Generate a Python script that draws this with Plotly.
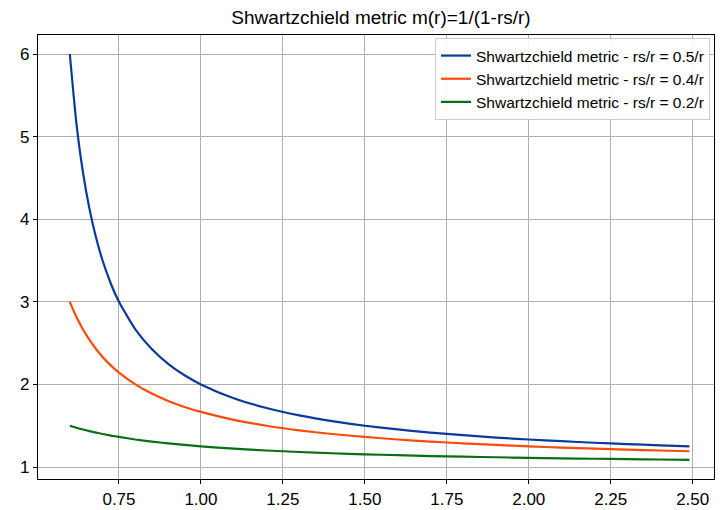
import plotly.graph_objects as go

r_values = [0.60, 0.62, 0.64, 0.66, 0.68, 0.70, 0.725, 0.75, 0.80, 0.85, 0.90, 0.95,
            1.00, 1.10, 1.20, 1.30, 1.40, 1.50, 1.60, 1.70, 1.80, 1.90, 2.00, 2.10,
            2.20, 2.30, 2.40, 2.49]

m_rs05 = [6.000, 5.167, 4.571, 4.125, 3.778, 3.500, 3.222, 3.000, 2.667, 2.429, 2.250, 2.111,
          2.000, 1.833, 1.714, 1.625, 1.556, 1.500, 1.455, 1.417, 1.385, 1.357, 1.333, 1.3125,
          1.294, 1.278, 1.263, 1.251]
m_rs04 = [3.000, 2.818, 2.667, 2.538, 2.429, 2.333, 2.231, 2.143, 2.000, 1.889, 1.800, 1.727,
          1.667, 1.571, 1.500, 1.444, 1.400, 1.364, 1.333, 1.308, 1.286, 1.267, 1.250, 1.235,
          1.222, 1.211, 1.200, 1.191]
m_rs02 = [1.500, 1.476, 1.455, 1.435, 1.417, 1.400, 1.381, 1.364, 1.333, 1.308, 1.286, 1.267,
          1.250, 1.222, 1.200, 1.182, 1.167, 1.154, 1.143, 1.133, 1.125, 1.118, 1.111, 1.105,
          1.100, 1.095, 1.091, 1.087]

series_names = ["Shwartzchield metric - rs/r = 0.5/r",
                "Shwartzchield metric - rs/r = 0.4/r",
                "Shwartzchield metric - rs/r = 0.2/r"]
series_colors = ["#0a3a9c", "#ff4a0a", "#0b6e14"]
x_ticks = [0.75, 1.00, 1.25, 1.50, 1.75, 2.00, 2.25, 2.50]
x_tick_labels = ["0.75", "1.00", "1.25", "1.50", "1.75", "2.00", "2.25", "2.50"]
y_ticks = [1, 2, 3, 4, 5, 6]

fig = go.Figure()
for name, ys, col in zip(series_names, [m_rs05, m_rs04, m_rs02], series_colors):
    fig.add_trace(go.Scatter(x=r_values, y=ys, mode="lines", name=name,
                             line=dict(color=col, width=2.2, shape="spline", smoothing=0.6)))

font_family = "Liberation Sans, Arial, sans-serif"
fig.update_layout(
    width=723, height=510,
    margin=dict(l=38, r=9, t=35, b=31, autoexpand=False),
    paper_bgcolor="white", plot_bgcolor="white",
    title=dict(text="Shwartzchield metric m(r)=1/(1-rs/r)", x=0.527, xanchor="center",
               y=1 - 17 / 510, yanchor="middle",
               font=dict(family=font_family, size=19, color="black")),
    font=dict(family=font_family, color="black"),
    legend=dict(x=(435 - 38) / 676, y=1 - 3 / 444, xanchor="left", yanchor="top",
                bgcolor="rgba(255,255,255,0.9)", bordercolor="#cccccc", borderwidth=1,
                font=dict(family=font_family, size=15.5, color="black"),
                tracegroupgap=0, itemwidth=30),
    showlegend=True,
)
fig.update_xaxes(range=[0.503, 2.565], tickvals=x_ticks, ticktext=x_tick_labels,
                 showgrid=True, gridcolor="#b0b0b0", gridwidth=1, automargin=False,
                 showline=True, linecolor="black", linewidth=1.3, mirror=True,
                 ticks="outside", ticklen=4, tickcolor="black",
                 tickfont=dict(family=font_family, size=17, color="black"), zeroline=False)
fig.update_yaxes(range=[0.855, 6.23], tickvals=y_ticks,
                 showgrid=True, gridcolor="#b0b0b0", gridwidth=1, automargin=False,
                 showline=True, linecolor="black", linewidth=1.3, mirror=True,
                 ticks="outside", ticklen=4, tickcolor="black",
                 tickfont=dict(family=font_family, size=17, color="black"), zeroline=False)

fig.write_html("out.html", config={"displayModeBar": False},
               post_script="document.body.style.margin='0';document.body.style.overflow='hidden';")
